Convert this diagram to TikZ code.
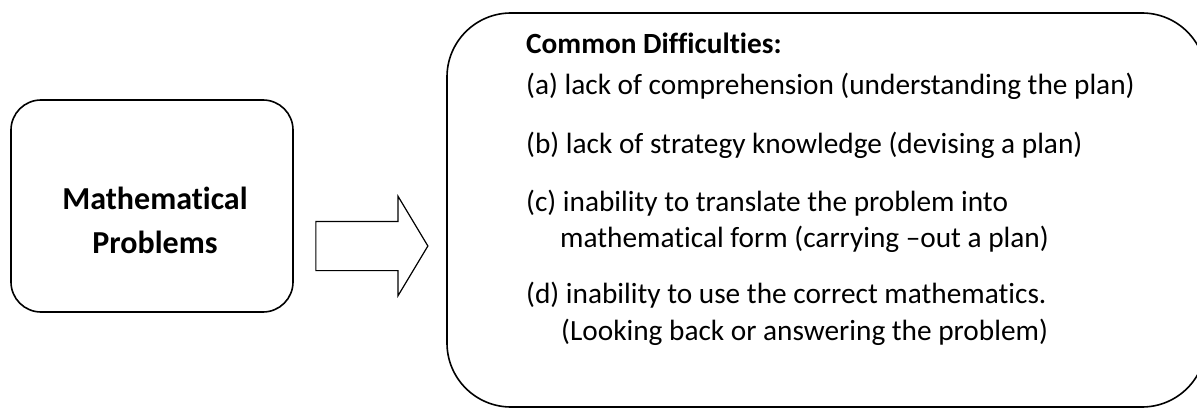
\documentclass[tikz,border=0pt]{standalone}
\usepackage{fontspec}
\setmainfont[Ligatures=NoCommon]{Carlito}
\usetikzlibrary{shapes.arrows}

\begin{document}
\begin{tikzpicture}[x=1pt,y=1pt,
  probbox/.style={draw, line width=1.6pt, rounded corners=30pt,
    minimum width=282pt, minimum height=212pt},
  diffbox/.style={draw, line width=1.6pt, rounded corners=64pt,
    minimum width=759pt, minimum height=394pt},
  blockarrow/.style={draw, line width=1.2pt, single arrow, inner xsep=0pt,
    inner ysep=24pt, minimum height=112pt, single arrow head extend=25pt,
    single arrow tip angle=118, single arrow head indent=0pt},
  itemline/.style={anchor=base west, inner sep=0pt,
    font=\fontsize{29.3pt}{36pt}\selectfont}]
  \useasboundingbox (0,0) rectangle (1197,408);
  \clip (0,0) rectangle (1197,408);
  % left box
  \node[probbox] (problems) at (152,202) {};
  \node[align=center, font=\fontsize{32pt}{44pt}\selectfont\bfseries]
    (problemstext) at (155,188) {Mathematical\\Problems};
  % block arrow
  \node[blockarrow] (arrow) at (364.5,162) {};
  % right box, runs past the right edge
  \node[diffbox] (difficulties) at (826.5,198) {};
  \node[itemline, font=\fontsize{29.3pt}{36pt}\selectfont\bfseries]
    (title) at (526,354) {Common Difficulties:};
  \node[itemline] (itema) at (526,314) {(a) lack of comprehension (understanding the plan)};
  \node[itemline] (itemb) at (526,255) {(b) lack of strategy knowledge (devising a plan)};
  \node[itemline] (itemc) at (526,197) {(c) inability to translate the problem into};
  \node[itemline] (itemcc) at (560,161) {mathematical form (carrying –out a plan)};
  \node[itemline] (itemd) at (526,105) {(d) inability to use the correct mathematics.};
  \node[itemline] (itemdd) at (561,68) {(Looking back or answering the problem)};
\end{tikzpicture}
\end{document}
